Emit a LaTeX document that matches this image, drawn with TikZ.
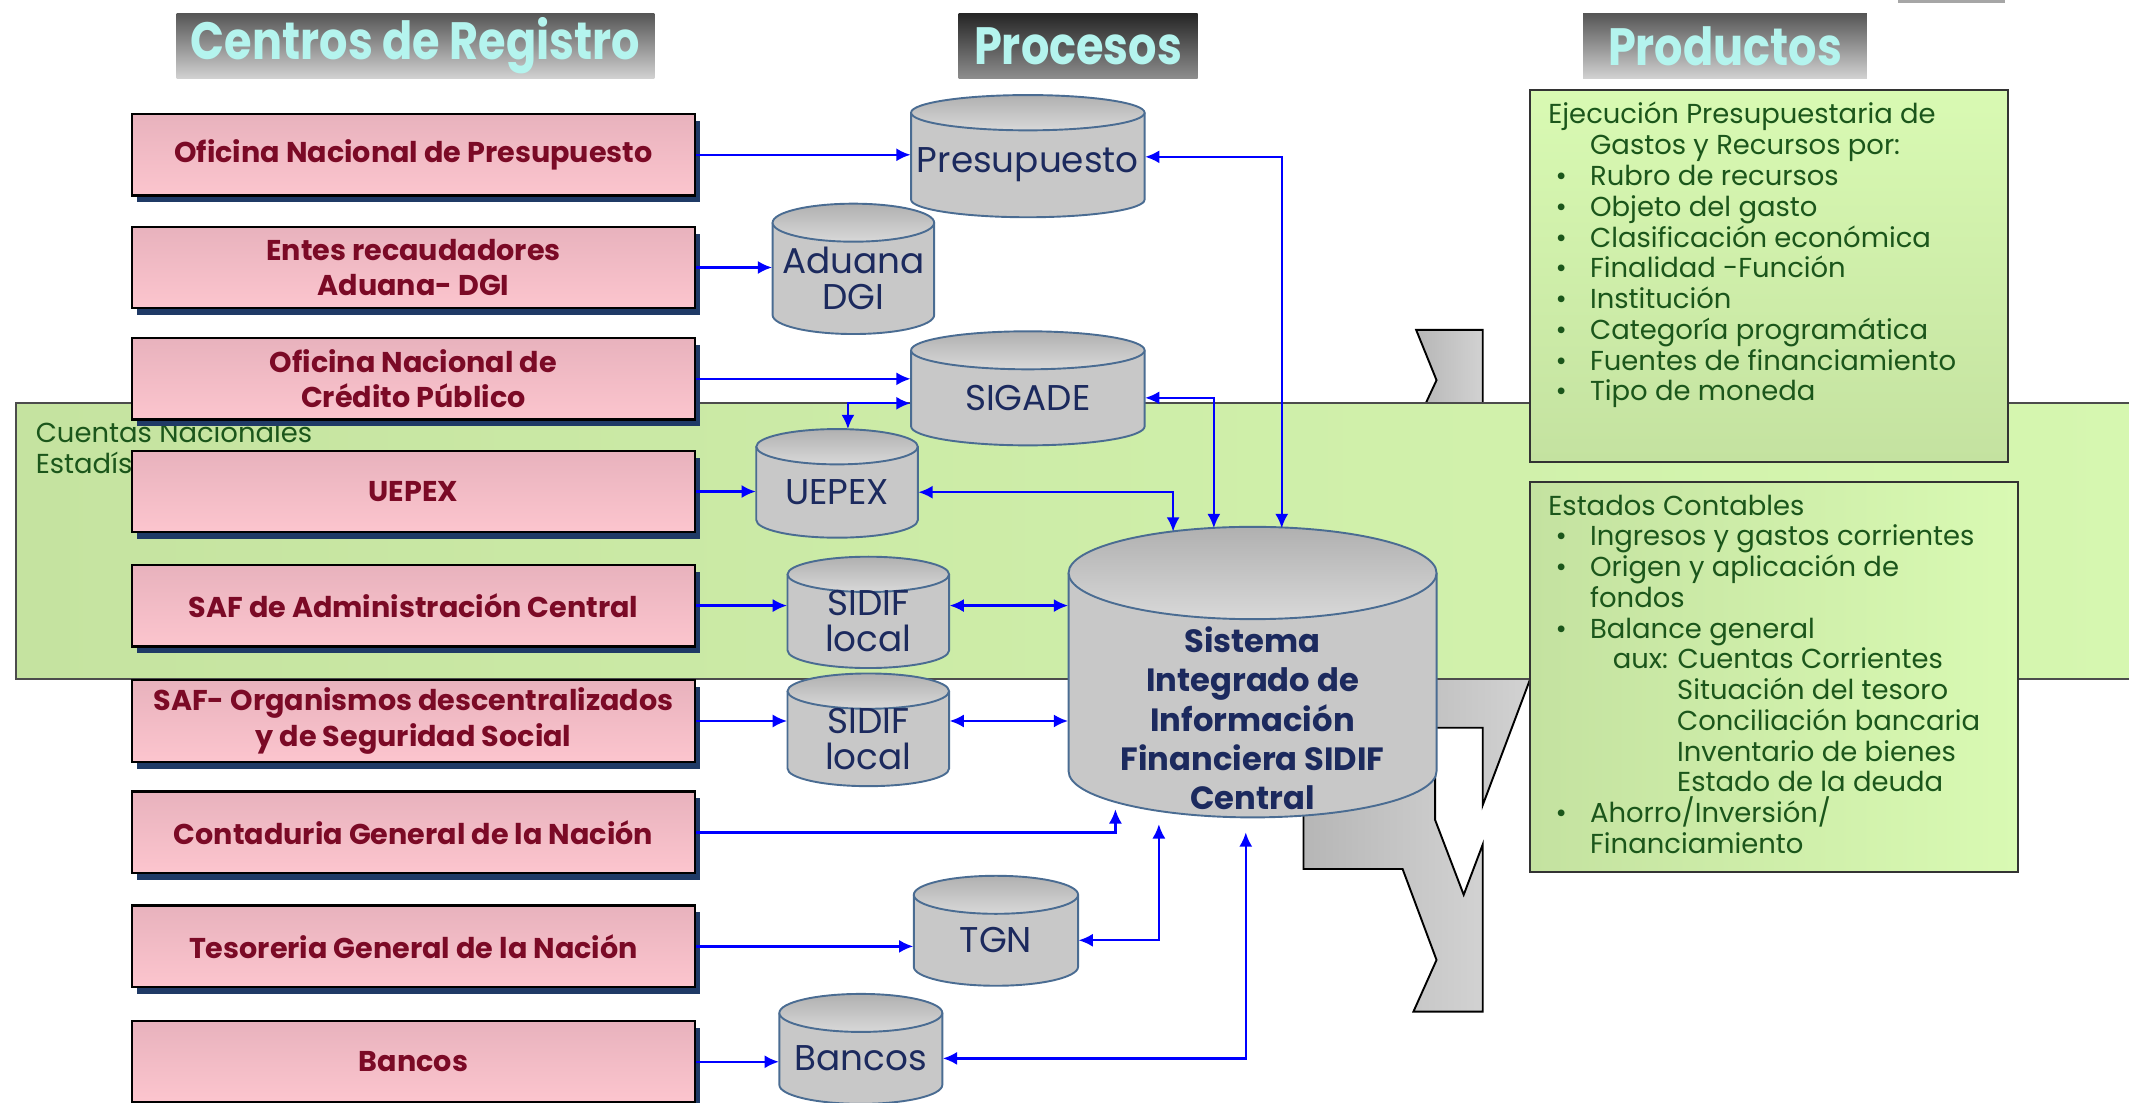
\documentclass[tikz,border=0pt]{standalone}
\usepackage{graphicx}
\usepackage{fontspec}
\setmainfont{Poppins}
\usetikzlibrary{arrows.meta,shadows,calc}

\definecolor{regred}{HTML}{7B0A26}
\definecolor{pinktop}{HTML}{E8B2BD}
\definecolor{pinkbot}{HTML}{FCC5CE}
\definecolor{regshadow}{HTML}{1F3A66}
\definecolor{dbbody}{HTML}{C8C8C8}
\definecolor{dbtopc}{HTML}{B0B0B0}
\definecolor{dbedge}{HTML}{4A6C92}
\definecolor{dbnavy}{HTML}{1C2A5E}
\definecolor{bandleft}{HTML}{C5E3A0}
\definecolor{bandright}{HTML}{D6F7B0}
\definecolor{prodlight}{HTML}{D9FAB3}
\definecolor{proddark}{HTML}{C4E2A0}
\definecolor{prodgreen}{HTML}{1B561B}
\definecolor{hdrcyan}{HTML}{B4F4EE}
\definecolor{hdrtopA}{HTML}{565656}
\definecolor{hdrbotA}{HTML}{D2D2D2}
\definecolor{hdrtopB}{HTML}{262626}
\definecolor{hdrbotB}{HTML}{8E8E8E}
\definecolor{chevleft}{HTML}{B6B6B6}
\definecolor{chevright}{HTML}{D2D2D2}

\tikzset{
  hdrbox/.style={minimum height=0.96cm, inner sep=0, text=hdrcyan,
    font=\bfseries\fontsize{22}{22}\selectfont},
  regbox/.style={draw=black, line width=1pt, top color=pinktop, bottom color=pinkbot,
    minimum width=8.3cm, minimum height=1.2cm, align=center, text=regred,
    font=\bfseries\fontsize{12}{14.7}\selectfont,
    drop shadow={shadow xshift=0.07cm, shadow yshift=-0.1cm, fill=regshadow, opacity=1}},
  dbside/.style={fill=dbbody, draw=dbedge, line width=0.8pt},
  dbtop/.style={top color=dbtopc, bottom color=dbbody!70!white, draw=dbedge, line width=0.8pt},
  dbtext/.style={inner sep=0, align=center, text=dbnavy, font=\fontsize{15}{15}\selectfont},
  dbmain/.style={dbtext, yshift=-0.34cm, font=\bfseries\fontsize{13.5}{16.4}\selectfont},
  band/.style={left color=bandleft, right color=bandright, draw=black!70, line width=0.8pt},
  prodbox/.style={draw=black!80, line width=0.8pt},
  prodtext/.style={anchor=north west, inner sep=0, align=left, text=prodgreen,
    font=\fontsize{11.5}{12.9}\selectfont},
  chevron/.style={left color=chevleft, right color=chevright, draw=black, line width=0.8pt},
  link/.style={draw=blue, line width=1pt, >={Latex[length=6pt,width=5.5pt]}}
}

% cylinder: name, centre x, top, bottom, width, ry, text style, text
\newcommand{\dbcyl}[8]{%
  \filldraw[dbside] (#2-#5/2,#3+#6) -- (#2-#5/2,#4-#6)
    arc[start angle=180, end angle=0, x radius=#5/2, y radius=#6] -- (#2+#5/2,#3+#6);
  \shadedraw[dbtop] (#2,#3+#6) ellipse [x radius=#5/2, y radius=#6];
  \coordinate (#1-top) at (#2,#3);
  \coordinate (#1-bot) at (#2,#4);
  \node[#7, minimum width=#5*0.02cm] (#1) at (#2,{(#3+#6+#4)/2}) {#8};
}
\newcommand{\hdrtext}[1]{\scalebox{0.85}[1]{#1}}
\newcommand{\prodbullet}{\makebox[17.5pt][l]{\hspace{3pt}\textbullet}}

\begin{document}
\begin{tikzpicture}[x=0.02cm,y=-0.02cm]
\useasboundingbox (0,0) rectangle (1568,812);

% column titles
\node[hdrbox, minimum width=7.04cm, top color=hdrtopA, bottom color=hdrbotA] (hcentros) at (306,34) {\hdrtext{Centros de Registro}};
\node[hdrbox, minimum width=3.52cm, top color=hdrtopB, bottom color=hdrbotB] (hprocesos) at (794,34) {\hdrtext{Procesos}};
\node[hdrbox, minimum width=4.18cm, top color=hdrtopA, bottom color=hdrbotA] (hproductos) at (1270.5,34) {\hdrtext{Productos}};
\fill[black!35] (1398,0) rectangle (1477,2);

% grey arrow pieces behind the central system
\shadedraw[chevron] (1043,243) -- (1092,243) -- (1092,310) -- (1044,310) -- (1058,280) -- cycle;
\shadedraw[chevron] (1000,490) -- (1127,490) -- (1127,500) -- (1092,593) -- (1092,536) -- (1000,536) -- cycle;
\shadedraw[chevron] (960,560) -- (1057,560) -- (1057,604) -- (1078,659) -- (1092,622) -- (1092,745)
  -- (1041,745) -- (1058,707) -- (1033,640) -- (960,640) -- cycle;

% Cuentas Nacionales band
\shadedraw[band] (12,297) rectangle (1575,500);
\node[prodtext] (cuentas) at (26,310) {Cuentas Nacionales\\Estadísticas};

% registration centres
\foreach \nm/\y/\txt in {onp/114/{Oficina Nacional de Presupuesto},
    ente/197/{Entes recaudadores\\Aduana- DGI},
    ocp/279/{Oficina Nacional de\\Crédito Público},
    uepex/362/{UEPEX},
    safac/446/{SAF de Administración Central},
    safod/531/{SAF- Organismos descentralizados\\y de Seguridad Social},
    cgn/613/{Contaduria General de la Nación},
    tgnbox/697/{Tesoreria General de la Nación},
    bancos/782/{Bancos}}
  \node[regbox] (\nm) at (304.5,\y) {\txt};

% products
\shadedraw[prodbox, top color=prodlight, bottom color=proddark] (1127,66) rectangle (1479,340);
\node[prodtext] (ejecucion) at (1140,75) {Ejecución Presupuestaria de\\
  \hspace*{17.5pt}Gastos y Recursos por:\\
  \prodbullet Rubro de recursos\\
  \prodbullet Objeto del gasto\\
  \prodbullet Clasificación económica\\
  \prodbullet Finalidad -Función\\
  \prodbullet Institución\\
  \prodbullet Categoría programática\\
  \prodbullet Fuentes de financiamiento\\
  \prodbullet Tipo de moneda};
\shadedraw[prodbox, left color=proddark, right color=prodlight] (1127,355) rectangle (1486,642);
\node[prodtext] (estados) at (1140,364) {Estados Contables\\
  \prodbullet Ingresos y gastos corrientes\\
  \prodbullet Origen y aplicación de\\
  \hspace*{17.5pt}fondos\\
  \prodbullet Balance general\\
  \hspace*{27pt}aux: Cuentas Corrientes\\
  \hspace*{54pt}Situación del tesoro\\
  \hspace*{54pt}Conciliación bancaria\\
  \hspace*{54pt}Inventario de bienes\\
  \hspace*{54pt}Estado de la deuda\\
  \prodbullet Ahorro/Inversión/\\
  \hspace*{17.5pt}Financiamiento};

% processes
\dbcyl{presup}{757}{70}{160}{172}{13}{dbtext}{Presupuesto}
\dbcyl{aduana}{628.5}{150}{246}{119}{14}{dbtext}{Aduana\\DGI}
\dbcyl{sigade}{757}{244}{328}{172}{14}{dbtext}{SIGADE}
\dbcyl{uepexdb}{616.5}{316}{396}{119}{13}{dbtext}{UEPEX}
\dbcyl{sidif1}{639.5}{410}{492}{119}{13}{dbtext}{SIDIF\\local}
\dbcyl{sidif2}{639.5}{496}{579}{119}{13}{dbtext}{SIDIF\\local}
\dbcyl{central}{922.5}{388}{602}{271}{34}{dbmain}{Sistema\\Integrado de\\Información\\Financiera SIDIF\\Central}
\dbcyl{tgn}{733.5}{645}{726}{121}{14}{dbtext}{TGN}
\dbcyl{bancosdb}{634}{732}{813}{120}{14}{dbtext}{Bancos}

% flows
\draw[link,->] (onp.east) -- (onp.east -| presup.west);
\draw[link,->] (ente.east) -- (ente.east -| aduana.west);
\draw[link,->] (ocp.east) -- (ocp.east -| sigade.west);
\draw[link,<->] ($(uepexdb-top)+(8,0)$) |- ($(sigade.west)+(0,4)$);
\draw[link,->] (uepex.east) -- (uepex.east -| uepexdb.west);
\draw[link,->] (safac.east) -- (safac.east -| sidif1.west);
\draw[link,->] (safod.east) -- (safod.east -| sidif2.west);
\draw[link,->] (cgn.east) -| ($(central-bot)+(-101,-6)$);
\draw[link,->] (tgnbox.east) -- (tgnbox.east -| tgn.west);
\draw[link,->] (bancos.east) -- (bancos.east -| bancosdb.west);
\draw[link,<->] ($(presup.east)+(0,-6)$) -| ($(central-top)+(21.5,1)$);
\draw[link,<->] (sigade.east) -| ($(central-top)+(-28.5,1)$);
\draw[link,<->] (uepexdb.east) -| ($(central-top)+(-58.5,3.5)$);
\draw[link,<->] (safac.east -| sidif1.east) -- (safac.east -| central.west);
\draw[link,<->] (safod.east -| sidif2.east) -- (safod.east -| central.west);
\draw[link,<->] (tgn.east) -| ($(central-bot)+(-69,5)$);
\draw[link,<->] (bancosdb.east) -| ($(central-bot)+(-5,11)$);
\end{tikzpicture}
\end{document}
